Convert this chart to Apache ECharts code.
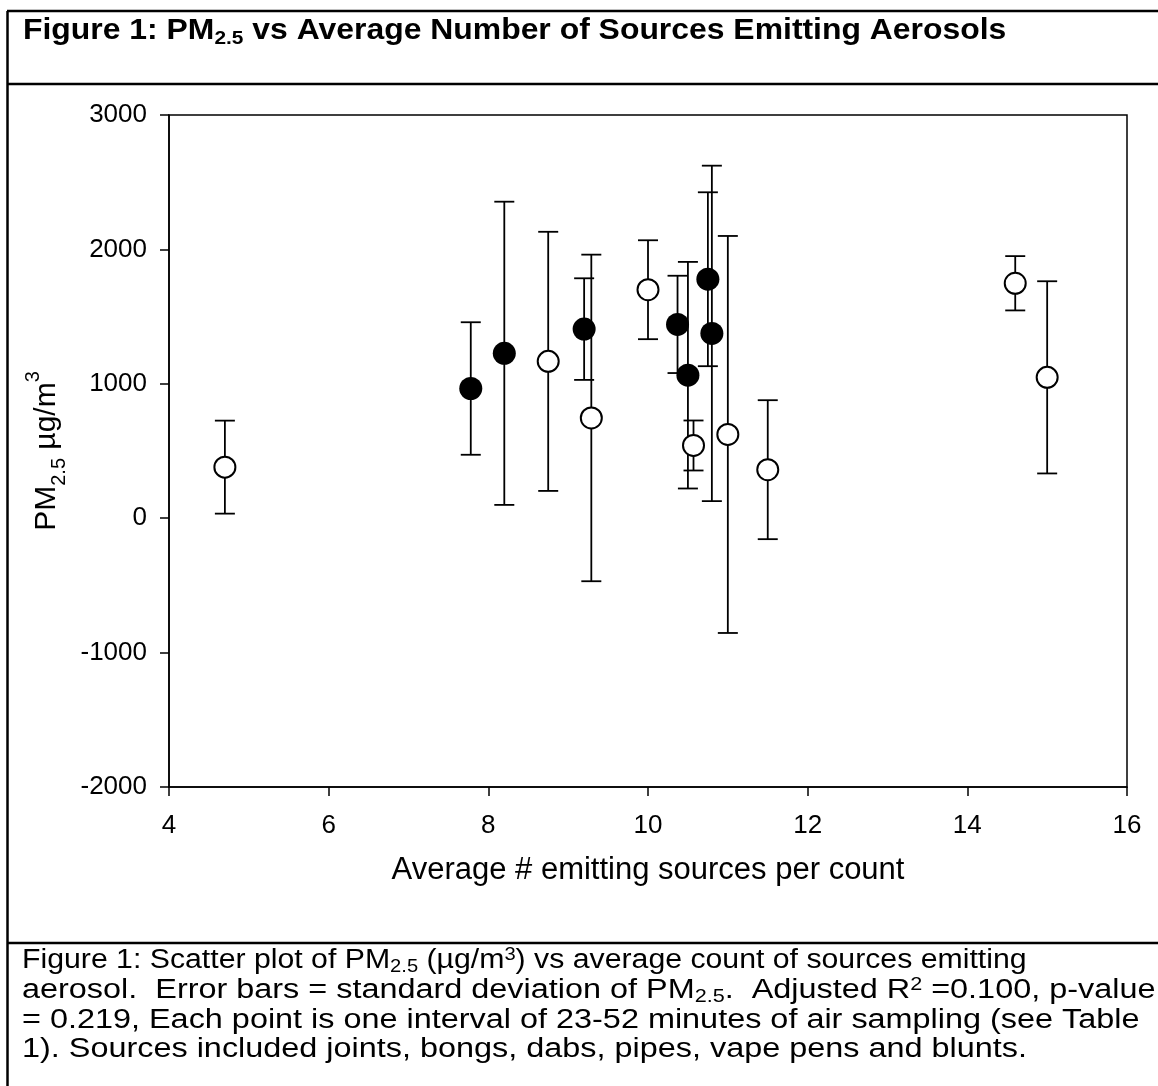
<!DOCTYPE html>
<html>
<head>
<meta charset="utf-8">
<script src="https://cdn.jsdelivr.net/npm/echarts@6/dist/echarts.min.js"></script>
<style>
html,body{margin:0;padding:0;background:#fff;}
#chart{width:1158px;height:1086px;}
</style>
</head>
<body>
<div id="chart"></div>
<script>
// ---- data ----
const avgSources = [4.70, 7.78, 8.20, 8.75, 9.20, 9.29, 10.00, 10.37, 10.50, 10.57, 10.75, 10.80, 11.00, 11.50, 14.60, 15.00];
const pmMean     = [380, 965, 1227, 1167, 1407, 746, 1700, 1442, 1064, 541, 1778, 1375, 623, 361, 1748, 1048];
const pmSD       = [346, 493, 1128, 964, 378, 1215, 368, 362, 843, 186, 647, 1248, 1477, 517, 202, 715];
const markerType = ['open','filled','filled','open','filled','open','open','filled','filled','open','filled','filled','open','open','open','open'];
const xTicks = [4, 6, 8, 10, 12, 14, 16];
const yTicks = [-2000, -1000, 0, 1000, 2000, 3000];

const FONT = '"Liberation Sans", Arial, sans-serif';

const filledData = [], openData = [], errData = [];
avgSources.forEach((x, i) => {
  const p = [x, pmMean[i]];
  if (markerType[i] === 'filled') filledData.push(p); else openData.push(p);
  errData.push([x, pmMean[i] - pmSD[i], pmMean[i] + pmSD[i]]);
});

const capRich = {
  n: {fontFamily: FONT, fontSize: 27, fill: '#000', lineHeight: 30},
  s: {fontFamily: FONT, fontSize: 18, fill: '#000', lineHeight: 25, verticalAlign: 'bottom'},
  p: {fontFamily: FONT, fontSize: 18, fill: '#000', lineHeight: 18, verticalAlign: 'top'}
};
const captionLines = [
  '{n|Figure 1: Scatter plot of PM}{s|2.5}{n| (µg/m}{p|3}{n|) vs average count of sources emitting}',
  '{n|aerosol.  Error bars = standard deviation of PM}{s|2.5}{n|.  Adjusted R}{p|2}{n| =0.100, p-value}',
  '{n|= 0.219, Each point is one interval of 23-52 minutes of air sampling (see Table}',
  '{n|1). Sources included joints, bongs, dabs, pipes, vape pens and blunts.}'
];
const captionStretch = [1.12, 1.2, 1.2, 1.2];
const captionTop = [946, 976, 1006, 1035];

const chart = echarts.init(document.getElementById('chart'), null, {renderer: 'canvas'});

const graphics = [
  // outer frame lines
  {type: 'line', shape: {x1: 7, y1: 11, x2: 1158, y2: 11}, style: {stroke: '#000', lineWidth: 2.5}, silent: true},
  {type: 'line', shape: {x1: 7.5, y1: 11, x2: 7.5, y2: 1086}, style: {stroke: '#000', lineWidth: 2.5}, silent: true},
  {type: 'line', shape: {x1: 7, y1: 84, x2: 1158, y2: 84}, style: {stroke: '#000', lineWidth: 2.5}, silent: true},
  {type: 'line', shape: {x1: 7, y1: 943, x2: 1158, y2: 943}, style: {stroke: '#000', lineWidth: 2.5}, silent: true},
  // heading
  {
    type: 'text', x: 23, y: 14, scaleX: 1.1, silent: true,
    style: {
      text: '{b|Figure 1: PM}{bs|2.5}{b| vs Average Number of Sources Emitting Aerosols}',
      rich: {
        b: {fontFamily: FONT, fontWeight: 'bold', fontSize: 29, fill: '#000', lineHeight: 34},
        bs: {fontFamily: FONT, fontWeight: 'bold', fontSize: 19, fill: '#000', lineHeight: 28, verticalAlign: 'bottom'}
      }
    }
  }
];
captionLines.forEach((t, i) => {
  graphics.push({
    type: 'text', x: 22, y: captionTop[i], scaleX: captionStretch[i], silent: true,
    style: {text: t, rich: capRich}
  });
});

const option = {
  backgroundColor: '#fff',
  animation: false,
  grid: {
    left: 169, right: 31, top: 115, bottom: 299,
    show: true, borderColor: '#000', borderWidth: 1.5, backgroundColor: 'transparent'
  },
  xAxis: {
    type: 'value', min: xTicks[0], max: xTicks[xTicks.length - 1], interval: 2,
    name: 'Average # emitting sources per count',
    nameLocation: 'middle', nameGap: 68,
    nameTextStyle: {fontFamily: FONT, fontSize: 31, color: '#000'},
    axisLine: {show: true, onZero: false, lineStyle: {color: '#000', width: 1.5}},
    axisTick: {show: true, inside: false, length: 9, lineStyle: {color: '#000', width: 1.5}},
    axisLabel: {fontFamily: FONT, fontSize: 26, color: '#000', margin: 26, formatter: v => String(v)},
    splitLine: {show: false}
  },
  yAxis: {
    type: 'value', min: yTicks[0], max: yTicks[yTicks.length - 1], interval: 1000,
    name: '{m|PM}{sub|2.5}{m| µg/m}{sup|3}',
    nameLocation: 'middle', nameGap: 74,
    nameTextStyle: {
      fontFamily: FONT, fontSize: 30, color: '#000',
      rich: {
        m: {fontFamily: FONT, fontSize: 30, color: '#000', lineHeight: 46},
        sub: {fontFamily: FONT, fontSize: 20, color: '#000', verticalAlign: 'bottom', lineHeight: 20},
        sup: {fontFamily: FONT, fontSize: 20, color: '#000', verticalAlign: 'top', lineHeight: 20}
      }
    },
    axisLine: {show: true, onZero: false, lineStyle: {color: '#000', width: 1.5}},
    axisTick: {show: true, inside: false, length: 9, lineStyle: {color: '#000', width: 1.5}},
    axisLabel: {fontFamily: FONT, fontSize: 26, color: '#000', margin: 22, formatter: v => String(v)},
    splitLine: {show: false}
  },
  graphic: graphics,
  series: [
    {
      type: 'custom',
      name: 'SD',
      z: 2,
      data: errData,
      renderItem: function (params, api) {
        const x = api.value(0);
        const lo = api.coord([x, api.value(1)]);
        const hi = api.coord([x, api.value(2)]);
        const cap = 10;
        const st = {stroke: '#000', lineWidth: 1.8, fill: null};
        return {
          type: 'group',
          children: [
            {type: 'line', shape: {x1: lo[0], y1: lo[1], x2: hi[0], y2: hi[1]}, style: st},
            {type: 'line', shape: {x1: hi[0] - cap, y1: hi[1], x2: hi[0] + cap, y2: hi[1]}, style: st},
            {type: 'line', shape: {x1: lo[0] - cap, y1: lo[1], x2: lo[0] + cap, y2: lo[1]}, style: st}
          ]
        };
      }
    },
    {
      type: 'scatter', name: 'open', z: 3,
      data: openData, symbol: 'circle', symbolSize: 21,
      itemStyle: {color: '#fff', borderColor: '#000', borderWidth: 2, opacity: 1}
    },
    {
      type: 'scatter', name: 'filled', z: 4,
      data: filledData, symbol: 'circle', symbolSize: 23,
      itemStyle: {color: '#000', borderColor: '#000', borderWidth: 0, opacity: 1}
    }
  ]
};
chart.setOption(option);
</script>
</body>
</html>
